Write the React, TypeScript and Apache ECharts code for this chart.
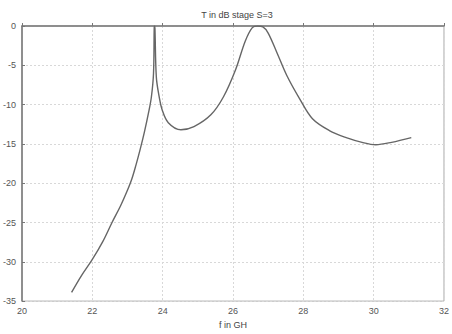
import React, { useEffect, useRef } from "react";
import * as echarts from "echarts";

const freq = [21.41, 21.7, 22.0, 22.3, 22.56, 22.8, 22.98, 23.12, 23.24, 23.36, 23.48, 23.6, 23.68, 23.74, 23.76, 23.77, 23.78, 23.82, 23.9, 23.98, 24.16, 24.52, 24.89, 25.37, 25.73, 26.07, 26.35, 26.55, 26.7, 26.85, 27.0, 27.25, 27.53, 27.9, 28.26, 28.74, 29.22, 29.67, 30.06, 30.51, 31.07];
const tdb = [-33.9, -31.7, -29.7, -27.4, -25.0, -22.9, -21.1, -19.5, -17.7, -15.7, -13.5, -11.0, -9.0, -6.0, -0.2, 0, -0.3, -6.5, -9.0, -10.6, -12.3, -13.2, -12.8, -11.3, -9.0, -5.6, -1.9, -0.2, 0, -0.1, -0.9, -3.4, -6.3, -9.3, -11.8, -13.3, -14.2, -14.8, -15.1, -14.8, -14.2];
const titleText = "T in dB stage S=3";
const xName = "f in GH";

export default function App() {
  const ref = useRef<HTMLDivElement>(null);
  useEffect(() => {
    if (!ref.current) return;
    const chart = echarts.init(ref.current, null, { renderer: "svg" });
    chart.setOption({
      animation: false,
      backgroundColor: "#fff",
      title: {
        text: titleText,
        left: 232,
        top: 5,
        textAlign: "center",
        textStyle: { fontSize: 9, fontWeight: "normal", color: "#444", fontFamily: "Liberation Sans" },
      },
      grid: { left: 19, right: 6, top: 26, bottom: 32, show: true, borderColor: "#aaa", borderWidth: 1 },
      xAxis: {
        type: "value",
        min: 20,
        max: 32,
        interval: 2,
        name: xName,
        nameLocation: "middle",
        nameGap: 17,
        nameTextStyle: { fontSize: 9, color: "#444", fontFamily: "Liberation Sans" },
        axisLine: { lineStyle: { color: "#777", width: 1.5 } },
        axisTick: { inside: true, length: 3, lineStyle: { color: "#777" } },
        axisLabel: { fontSize: 9, color: "#555", margin: 5, fontFamily: "Liberation Sans" },
        splitLine: { show: true, lineStyle: { color: "#d8d8d8", type: [2, 2], width: 1 } },
      },
      yAxis: {
        type: "value",
        min: -35,
        max: 0,
        interval: 5,
        axisLine: { show: true, lineStyle: { color: "#777", width: 1.5 } },
        axisTick: { show: true, inside: true, length: 3, lineStyle: { color: "#777" } },
        axisLabel: { fontSize: 9, color: "#555", margin: 6, fontFamily: "Liberation Sans" },
        splitLine: { show: true, lineStyle: { color: "#d8d8d8", type: [2, 2], width: 1 } },
      },
      series: [
        {
          type: "line",
          data: freq.map((f, i) => [f, tdb[i]]),
          smooth: 0.35,
          showSymbol: false,
          lineStyle: { color: "#666", width: 1.4 },
        },
      ],
    });
    return () => chart.dispose();
  }, []);
  return <div ref={ref} style={{ width: 452, height: 334, position: "absolute", left: 0, top: 0 }} />;
}
